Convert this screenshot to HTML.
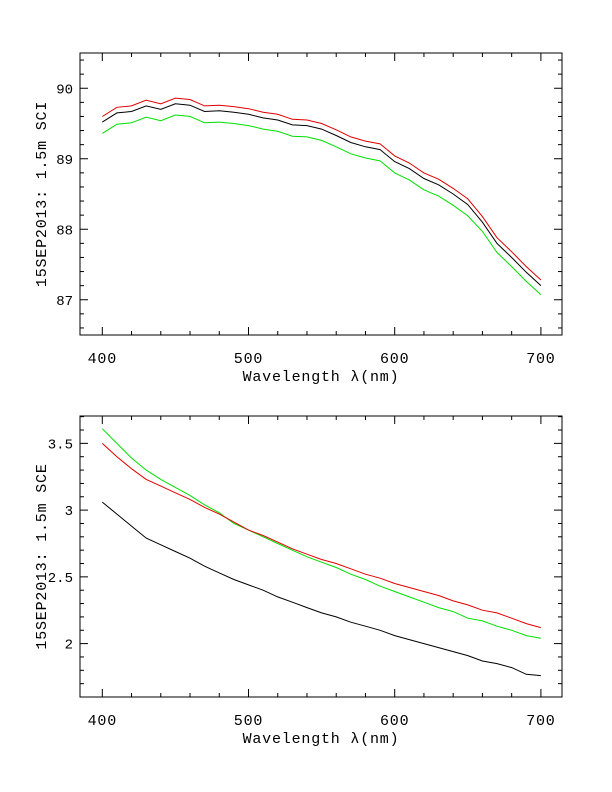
<!DOCTYPE html>
<html><head><meta charset="utf-8"><style>
html,body{margin:0;padding:0;background:#fff}
svg{display:block}
text{font-family:"Liberation Mono",monospace;font-size:15px;fill:#000;letter-spacing:0.8px}
text.t{font-size:14px;letter-spacing:0}
</style></head><body>
<svg id="s" width="612" height="792" xmlns="http://www.w3.org/2000/svg"></svg>
<script>
const S=document.getElementById('s');let h='';
const X0=80,X1=562,xs=1.462;
function px(w){return 102.3+(w-400)*xs;}
function panel(top,bot,v0,v1,minor,major,labels,ylab,series){
  const py=v=>bot-(v-v0)/(v1-v0)*(bot-top);
  h+=`<rect x="${X0}" y="${top}" width="${X1-X0}" height="${bot-top}" fill="none" stroke="#000" stroke-width="1"/>`;
  for(let w=400;w<=700;w+=20){const x=px(w);const L=(w%100==0)?8:4;
    h+=`<line x1="${x}" y1="${bot}" x2="${x}" y2="${bot-L}" stroke="#000"/><line x1="${x}" y1="${top}" x2="${x}" y2="${top+L}" stroke="#000"/>`;
    if(w%100==0)h+=`<text x="${x}" y="${bot+28}" text-anchor="middle">${w}</text>`;}
  for(let v=Math.ceil(v0/minor-1e-6)*minor;v<=v1+1e-9;v+=minor){const y=py(v);
    const isM=Math.abs(v/major-Math.round(v/major))<1e-6;const L=isM?8:4;
    h+=`<line x1="${X0}" y1="${y}" x2="${X0+L}" y2="${y}" stroke="#000"/><line x1="${X1}" y1="${y}" x2="${X1-L}" y2="${y}" stroke="#000"/>`;}
  labels.forEach(([v,t])=>{h+=`<text class="t" x="${X0-7}" y="${py(v)+5}" text-anchor="end">${t}</text>`;});
  h+=`<text x="321" y="${bot+46}" text-anchor="middle">Wavelength λ(nm)</text>`;
  const cy=(top+bot)/2;
  h+=`<text transform="translate(46,${cy}) rotate(-90)" text-anchor="middle">${ylab}</text>`;
  series.forEach(([c,d])=>{h+=`<polyline fill="none" stroke="${c}" stroke-width="1" points="${d.map((v,i)=>px(400+10*i).toFixed(1)+','+py(v).toFixed(1)).join(' ')}"/>`;});
}
const kb=[89.52,89.65,89.67,89.75,89.70,89.78,89.76,89.67,89.68,89.66,89.63,89.58,89.55,89.48,89.47,89.42,89.33,89.23,89.17,89.13,88.96,88.86,88.72,88.63,88.50,88.35,88.10,87.80,87.60,87.39,87.20];
const rt=kb.map(v=>v+0.08), gt=kb.map((v,i)=>v-0.16+(i>25?0.03:0));
panel(53,335,86.5,90.5,0.2,1,[[87,'87'],[88,'88'],[89,'89'],[90,'90']],'15SEP2013: 1.5m SCI',[['#00e000',gt],['#000',kb],['#e00000',rt]]);
const k2=[3.06,2.97,2.88,2.79,2.74,2.69,2.64,2.58,2.53,2.48,2.44,2.40,2.35,2.31,2.27,2.23,2.20,2.16,2.13,2.10,2.06,2.03,2.00,1.97,1.94,1.91,1.87,1.85,1.82,1.77,1.76];
const r2=[3.50,3.40,3.31,3.23,3.18,3.13,3.08,3.02,2.97,2.91,2.85,2.81,2.76,2.71,2.67,2.63,2.60,2.56,2.52,2.49,2.45,2.42,2.39,2.36,2.32,2.29,2.25,2.23,2.19,2.15,2.12];
const g2=[3.61,3.50,3.39,3.30,3.23,3.17,3.11,3.04,2.98,2.90,2.85,2.80,2.75,2.70,2.65,2.61,2.57,2.52,2.48,2.43,2.39,2.35,2.31,2.27,2.24,2.19,2.17,2.13,2.10,2.06,2.04];
panel(416,697,1.6,3.705,0.1,0.5,[[2,'2'],[2.5,'2.5'],[3,'3'],[3.5,'3.5']],'15SEP2013: 1.5m SCE',[['#000',k2],['#00e000',g2],['#e00000',r2]]);
S.innerHTML=h;
</script>
</body></html>
